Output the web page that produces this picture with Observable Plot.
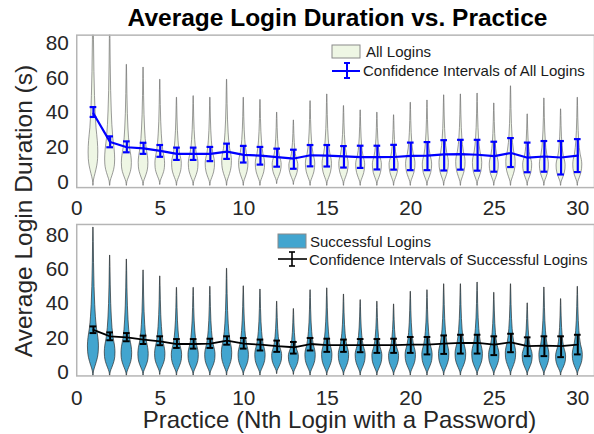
<!DOCTYPE html>
<html><head><meta charset="utf-8">
<script src="https://cdn.jsdelivr.net/npm/d3@7"></script>
<script src="https://cdn.jsdelivr.net/npm/@observablehq/plot@0.6"></script>
<style>
html,body{margin:0;padding:0;background:#fff;overflow:hidden}
#wrap{position:relative;width:594px;height:434px;overflow:hidden;font-family:"Liberation Sans",Arial,Helvetica,sans-serif;color:#262626}
#top,#bot{position:absolute;left:0}
#top{top:0}
#bot{top:222px}
#over{position:absolute;left:0;top:0;pointer-events:none}
</style></head><body><div id="wrap"><div id="top"></div><div id="bot"></div>
<svg id="over" width="594" height="434"></svg></div>
<script>
// ---------- data ----------
const practice = [1,2,3,4,5,6,7,8,9,10,11,12,13,14,15,16,17,18,19,20,21,22,23,24,25,26,27,28,29,30];
const xTicks = [0,5,10,15,20,25,30];
const yTicks = [0,20,40,60,80];

// All logins
const allMean = [39.5,23.0,20.0,19.4,17.9,16.2,16.2,16.2,17.5,15.6,15.2,14.3,13.5,15.4,15.2,14.8,14.3,14.3,14.4,15.0,15.2,15.9,16.0,15.7,14.9,16.7,14.0,14.7,14.1,15.2];
const allHi   = [43.2,26.3,23.4,22.6,21.3,19.8,19.8,20.2,22.1,20.8,20.2,19.2,18.6,21.3,21.3,20.7,20.9,20.9,21.4,22.7,23.0,24.1,24.3,24.3,23.2,25.3,22.7,23.6,23.6,24.7];
const allLo   = [37.5,20.0,17.1,16.2,14.5,12.7,12.7,12.0,13.3,11.2,10.0,8.8,7.6,9.0,8.9,8.3,8.1,7.2,7.1,6.8,6.8,6.6,7.1,6.5,5.9,8.6,5.6,5.9,4.3,5.7];
const allMax  = [110,92,67.6,66,59,48.6,49.5,48.6,59,48.6,47.3,40,35.5,46.6,50.5,43.8,41.3,40,38.5,45.7,47,50,50.5,51,45.3,55.2,39,48.2,41.9,48.6];
const allMode = [17,13,11,11,10.5,10.5,10.5,10.5,12,11,10.5,10,9.5,10.5,10.5,10.5,10,10,10,10.5,10,11,11.5,11,10,11.5,10,10,9.5,10];
const allMin  = [-2,-2,-2,-2,-1.5,-2,-2,-2,-2,-2,-2,-1,-1.5,-2,-2,-2,-2,-2,-2,-2,-2,-2,-2,-2,-2,-2,-2,-2,-2,-2];
const allPeak = [0.29,0.3,0.3,0.29,0.29,0.29,0.29,0.28,0.29,0.28,0.28,0.27,0.27,0.28,0.28,0.28,0.27,0.27,0.27,0.28,0.28,0.28,0.28,0.28,0.27,0.28,0.27,0.27,0.27,0.27];

// Successful logins
const succMean = [24.7,20.9,20.3,19.0,18.0,16.4,16.4,16.6,18.4,16.6,16.0,15.1,14.5,16.4,15.7,15.7,15.7,15.7,15.7,16.0,16.0,16.6,17.0,17.0,16.0,17.4,15.1,15.5,15.1,16.0];
const succHi   = [26.7,23.2,22.8,21.3,20.9,19.3,19.3,19.5,20.9,19.9,19.0,18.4,17.6,19.9,19.5,19.0,19.3,19.3,19.5,20.5,20.5,21.4,21.8,21.8,20.9,22.4,20.3,20.9,20.9,21.8];
const succLo   = [22.8,18.6,18.0,16.4,15.7,14.1,13.7,14.1,16.0,13.7,12.6,11.8,10.8,12.6,11.8,11.8,11.6,11.2,11.2,11.2,10.3,10.6,10.8,10.8,9.9,11.6,9.3,9.3,8.7,10.3];
const succMax  = [84.6,68.2,65.9,59.5,56.0,49.3,49.3,49.9,60.5,50.2,48.3,41.2,36.9,47.9,49,45.4,42.1,41.2,39.6,47.0,47.9,51.4,51.4,52.4,46.4,51.4,40.2,49.5,42.7,49.9];
const succMode = [15,11.5,11,10.5,10.5,10,10,10,11,10,10,9.5,9,10,10,10,10,9.5,9.5,10,10,10.5,10.5,10.5,10,11,9.5,10,9,10];
const succMin  = [-2.3,-2.3,-2.3,-2,-1.5,-2,-2,-2,-2,-2,-2,-1,-1.5,-2,-2,-2,-2,-2,-2,-2,-2,-2,-2,-2,-2,-2,-2,-2,-2,-2];
const succPeak = [0.33,0.32,0.32,0.31,0.31,0.31,0.31,0.31,0.31,0.31,0.31,0.3,0.3,0.31,0.31,0.31,0.3,0.3,0.3,0.31,0.31,0.31,0.32,0.32,0.31,0.31,0.3,0.3,0.3,0.3];

// shared violin outline profile (relative width at relative heights), read from the shapes
const belowFrac  = [0, 0.15, 0.35, 0.6, 0.8, 1];
const belowWidth = [0.03, 0.1, 0.42, 0.8, 0.96, 1];
const aboveFrac  = [0.07, 0.15, 0.25, 0.35, 0.5, 0.7, 0.88, 1];
const aboveWidth = [0.9, 0.64, 0.44, 0.32, 0.2, 0.11, 0.06, 0.02];

// ---------- build tables ----------
function violins(mins, modes, maxs, peaks){
  const out = [];
  practice.forEach((p,i)=>{
    belowFrac.forEach((f,k)=>out.push({x:p, y: mins[i] + f*(modes[i]-mins[i]), w: peaks[i]*belowWidth[k]}));
    aboveFrac.forEach((f,k)=>out.push({x:p, y: modes[i] + f*(maxs[i]-modes[i]), w: peaks[i]*aboveWidth[k]}));
  });
  return out;
}
function cis(mean, lo, hi){ return practice.map((p,i)=>({x:p, mean:mean[i], lo:lo[i], hi:hi[i]})); }

const FONT = '"Liberation Sans",Arial,Helvetica,sans-serif';
const CAP = 0.2;

function panel({vdata, cdata, fill, vstroke, col, capW, lineW, height, marginTop, marginBottom, domain, xPad}){
  return Plot.plot({
    width: 600, height, marginLeft: 77, marginRight: 0, marginTop, marginBottom,
    x: {domain: [0, 31]},
    y: {domain},
    style: {fontFamily: FONT, fontSize: "21px", color: "#262626", background: "transparent", overflow: "visible"},
    marks: [
      Plot.areaX(vdata, {y: "y", x1: d => d.x - d.w, x2: d => d.x + d.w, z: "x", fill, stroke: vstroke, strokeWidth: 0.7, curve: "monotone-y", clip: true}),
      Plot.line(cdata, {x: "x", y: "mean", stroke: col, strokeWidth: lineW}),
      Plot.ruleX(cdata, {x: "x", y1: "lo", y2: "hi", stroke: col, strokeWidth: capW}),
      Plot.ruleY(cdata, {y: "hi", x1: d => d.x - CAP, x2: d => d.x + CAP, stroke: col, strokeWidth: capW}),
      Plot.ruleY(cdata, {y: "lo", x1: d => d.x - CAP, x2: d => d.x + CAP, stroke: col, strokeWidth: capW}),
      Plot.frame({stroke: "#b5b5b5", strokeWidth: 1.5}),
      Plot.axisY({ticks: yTicks, tickSize: 0, tickPadding: 8, label: null, fontSize: 21}),
      Plot.axisX({ticks: xTicks, tickSize: 0, tickPadding: xPad, label: null, fontSize: 21})
    ]
  });
}

document.getElementById("top").append(panel({
  vdata: violins(allMin, allMode, allMax, allPeak), cdata: cis(allMean, allLo, allHi),
  fill: "#eef6e4", vstroke: "#6e6e6e", col: "#0000ff", capW: 2.2, lineW: 2.2,
  height: 222, marginTop: 35, marginBottom: 33, domain: [-3.26, 84.7], xPad: 13
}));
document.getElementById("bot").append(panel({
  vdata: violins(succMin, succMode, succMax, succPeak), cdata: cis(succMean, succLo, succHi),
  fill: "#42a5cf", vstroke: "#2b2b2b", col: "#000000", capW: 2, lineW: 1.8,
  height: 212, marginTop: 2, marginBottom: 57, domain: [-2.3, 86.4], xPad: 14
}));

// ---------- titles, labels and legends ----------
const ns = "http://www.w3.org/2000/svg";
const over = document.getElementById("over");
function el(tag, attrs, text){ const e = document.createElementNS(ns, tag); for (const k in attrs) e.setAttribute(k, attrs[k]); if (text) e.textContent = text; over.append(e); return e; }
const labelFont = {"font-family": FONT};
el("text", {...labelFont, x: 337.5, y: 26, "text-anchor": "middle", "font-size": 24.5, "font-weight": "bold", fill: "#000"}, "Average Login Duration vs. Practice");
el("text", {...labelFont, transform: "translate(32,211) rotate(-90)", "text-anchor": "middle", "font-size": 24.5, fill: "#262626"}, "Average Login Duration (s)");
el("text", {...labelFont, x: 339.5, y: 428, "text-anchor": "middle", "font-size": 24, fill: "#262626"}, "Practice (Nth Login with a Password)");

// legend: all logins
el("rect", {x: 332, y: 45, width: 28, height: 13, fill: "#eef6e4", stroke: "#8a8a8a", "stroke-width": 1});
el("text", {...labelFont, x: 366, y: 57, "font-size": 15, fill: "#1a1a1a"}, "All Logins");
el("line", {x1: 332, x2: 360, y1: 71, y2: 71, stroke: "#0000ff", "stroke-width": 2});
el("line", {x1: 347, x2: 347, y1: 63, y2: 78, stroke: "#0000ff", "stroke-width": 2});
el("line", {x1: 344, x2: 350, y1: 63, y2: 63, stroke: "#0000ff", "stroke-width": 2});
el("line", {x1: 344, x2: 350, y1: 78, y2: 78, stroke: "#0000ff", "stroke-width": 2});
el("text", {...labelFont, x: 363, y: 76, "font-size": 15, fill: "#1a1a1a"}, "Confidence Intervals of All Logins");

// legend: successful logins
el("rect", {x: 278, y: 234, width: 28, height: 14, fill: "#42a5cf", stroke: "#8a8a8a", "stroke-width": 1});
el("text", {...labelFont, x: 310, y: 247, "font-size": 15, fill: "#1a1a1a"}, "Successful Logins");
el("line", {x1: 278, x2: 307, y1: 259, y2: 259, stroke: "#000", "stroke-width": 1.6});
el("line", {x1: 292, x2: 292, y1: 252, y2: 266, stroke: "#000", "stroke-width": 1.6});
el("line", {x1: 289, x2: 295, y1: 252, y2: 252, stroke: "#000", "stroke-width": 1.6});
el("line", {x1: 289, x2: 295, y1: 266, y2: 266, stroke: "#000", "stroke-width": 1.6});
el("text", {...labelFont, x: 309, y: 265, "font-size": 15, fill: "#1a1a1a"}, "Confidence Intervals of Successful Logins");
</script></body></html>
